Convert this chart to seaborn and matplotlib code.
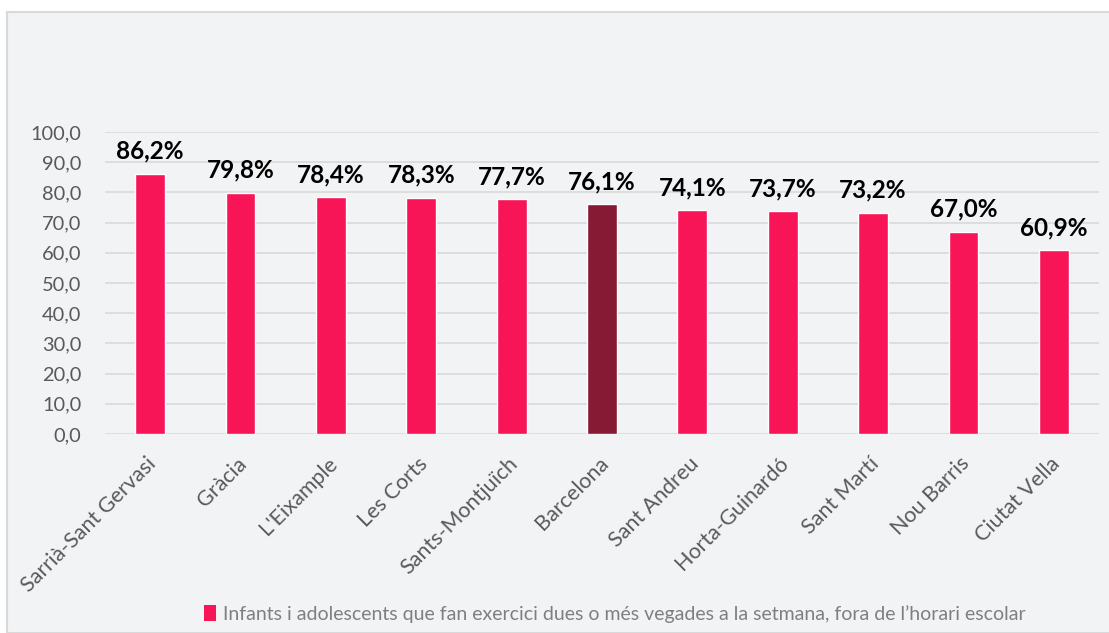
import matplotlib
matplotlib.use("Agg")
import matplotlib.pyplot as plt
from matplotlib.patches import Rectangle, Patch
from matplotlib.transforms import ScaledTranslation
import seaborn as sns
import pandas as pd

districtes = ["Sarrià-Sant Gervasi", "Gràcia", "L'Eixample", "Les Corts", "Sants-Montjuïch",
              "Barcelona", "Sant Andreu", "Horta-Guinardó", "Sant Martí", "Nou Barris", "Ciutat Vella"]
percentatges = [86.2, 79.8, 78.4, 78.3, 77.7, 76.1, 74.1, 73.7, 73.2, 67.0, 60.9]
serie = "Infants i adolescents que fan exercici dues o més vegades a la setmana, fora de l’horari escolar"

ROSA = "#F81557"
GRANA = "#861A35"
FONS = "#F2F3F5"
GRIS = "#595959"

sns.set_theme(style="white")
plt.rcParams["font.family"] = ["Lato", "DejaVu Sans"]

df = pd.DataFrame({"districte": districtes, "valor": percentatges})
colors = {d: (GRANA if d == "Barcelona" else ROSA) for d in districtes}

W, H = 1109, 633
fig = plt.figure(figsize=(W / 100, H / 100), dpi=100)
fig.patch.set_facecolor("white")
fig.patches.append(Rectangle((7 / W, 0), 1.0, 1 - 12 / H, transform=fig.transFigure,
                             facecolor=FONS, edgecolor="#D9D9D9", linewidth=1.5, zorder=-10))

ax = fig.add_axes([105 / W, 1 - 434 / H, (1099 - 105) / W, (434 - 132) / H])
ax.set_facecolor(FONS)
ax.patch.set_alpha(0)

sns.barplot(data=df, x="districte", y="valor", hue="districte", palette=colors,
            width=0.33, legend=False, ax=ax, zorder=3, saturation=1)

ax.set_xlim(-0.5, len(districtes) - 0.5)
ax.set_ylim(0, 100)
ax.set_yticks(range(0, 101, 10))
ax.set_yticklabels([f"{v:.1f}".replace(".", ",") for v in range(0, 101, 10)],
                   color=GRIS, fontsize=14.4)
ax.grid(axis="y", color="#D9D9D9", linewidth=1.2, zorder=0)
ax.set_axisbelow(True)
for s in ax.spines.values():
    s.set_visible(False)
ax.tick_params(axis="y", length=0, pad=17)
ax.tick_params(axis="x", length=0, pad=14)
ax.set_xlabel("")
ax.set_ylabel("")
ax.set_xticks(range(len(districtes)))
ax.set_xticklabels(districtes, rotation=45, ha="right", va="top", rotation_mode="anchor",
                   color=GRIS, fontsize=15.5)
shift = ScaledTranslation(-4 / 100, 0, fig.dpi_scale_trans)
for lab in ax.get_xticklabels():
    lab.set_transform(lab.get_transform() + shift)

for cont in ax.containers:
    ax.bar_label(cont, labels=[f"{v:.1f}%".replace(".", ",") for v in cont.datavalues],
                 padding=8, fontsize=17.5, fontweight="bold", color="black")

fig.legend(handles=[Patch(facecolor=ROSA, edgecolor="none")], labels=[serie],
           loc="center", bbox_to_anchor=(615 / W, 1 - 614 / H), frameon=False,
           fontsize=14, labelcolor="#7F7F7F", handlelength=0.6, handleheight=0.85,
           handletextpad=0.35)

fig.savefig("out.png", dpi=100, facecolor="white")
